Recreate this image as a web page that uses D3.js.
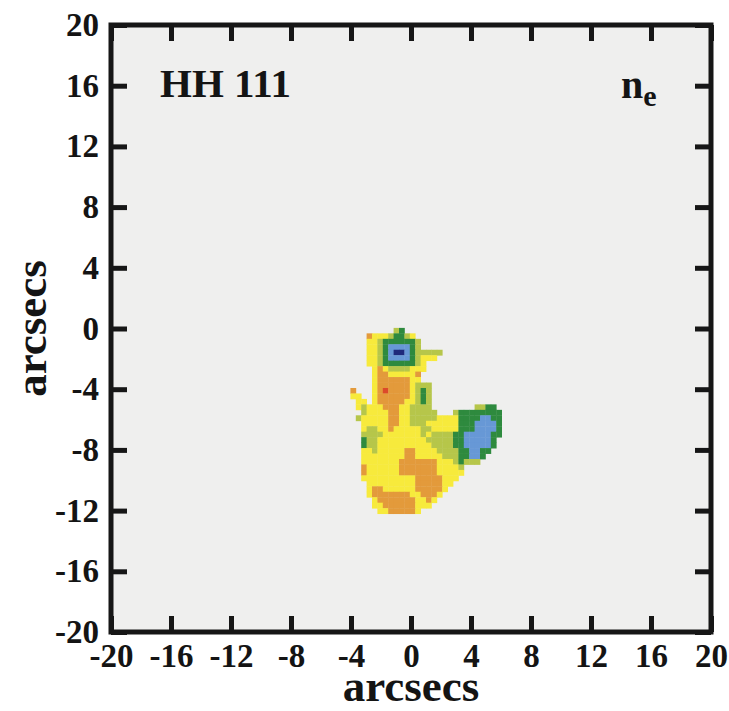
<!DOCTYPE html>
<html>
<head>
<meta charset="utf-8">
<script src="https://cdn.jsdelivr.net/npm/d3@7"></script>
<style>
  body { margin: 0; background: #ffffff; }
  text { font-family: "Liberation Serif", "Times New Roman", serif; font-weight: bold; fill: #141414; }
</style>
</head>
<body>
<svg id="chart" width="729" height="711"></svg>
<script>
// Axis ticks, arcsec offsets from the source
const xTicks = [-20, -16, -12, -8, -4, 0, 4, 8, 12, 16, 20];
const yTicks = [-20, -16, -12, -8, -4, 0, 4, 8, 12, 16, 20];

// Electron-density map: top-left corner of the grid and pixel size (arcsec)
const mapX0 = -4.4;
const mapY0 = 0.4;
const mapCell = 0.36;

// Density class per map pixel, one string per row from the top ('.' = no data)
// Y yellow, O orange, R red, L light green, G green, B blue, N dark blue
const mapRows = [
  "",
  ".........LG",
  "....OYYYLGGLY",
  "....YYLGGGGGGL",
  "....YYLGBBBBGL",
  "....YYLGBNNBGLLLLL",
  "....YYLGBBBBGLYYY",
  "....YYLGGGGGGLY",
  ".....YOYLLLLYYY",
  ".....YOOYYYYYO",
  ".....YOOOOOOYY",
  ".....YOOOOOOYLLL",
  ".O...YOROOOOYLGL",
  ".YY..YOOOOOOYLGL",
  "..YY.YOOOOOYYLGL",
  "..YLYYYOOOYYLLLL........LLGG",
  "...LYYYYOOYYLLLLL...LGGGGGGGG",
  "..LYYYYYOOYYLLLLLYYYYGGGGBBGG",
  "...YYYYYOOYYLLLYYYYYYGGGBBBBG",
  "...YLLYYOYYYYYLLYYYYYGGGBBBBG",
  "...LLLLYYYYYYYLYLLLLGGBBBBBGG",
  "...GLLYYYYYYYYYLLLLLGGBBBBBG",
  "...GLLYYYYYYYYYYLLLLGGBBBBBG",
  "...YYLYYYYYOOYYYYLLLLGGBBGG",
  "...YYYYYYYYOOYYYYYLLLGGBBG",
  "...YYYYYYYOOOOOOOYYYLGLLL",
  "...OYYYYYYOOOOOOOYYYYL",
  "...OYYYYYYOOOOOOOYYYYY",
  "...YYYYYYYYYYOOOOOYYY",
  "....YYYYYYYYYOOOOOYY",
  "....YOOYYYYYYOOOOOY",
  "....YOOOOOOOYYOOOY",
  ".....YOOOOOOOYYOY",
  ".....YYOOOOOOYYY",
  "......YYOOOOOY"
];

const classColors = {
  Y: "#f7ea3c",
  O: "#e39a3b",
  R: "#dc4a2a",
  L: "#b6c64a",
  G: "#2e8a3e",
  B: "#6798d6",
  N: "#1f2a7c"
};

const svg = d3.select("#chart");
const plotLeft = 111, plotRight = 711, plotTop = 25, plotBottom = 632;

const x = d3.scaleLinear().domain([-20, 20]).range([plotLeft, plotRight]);
const y = d3.scaleLinear().domain([-20, 20]).range([plotBottom, plotTop]);

// plot background
svg.append("rect")
  .attr("x", plotLeft).attr("y", plotTop)
  .attr("width", plotRight - plotLeft).attr("height", plotBottom - plotTop)
  .attr("fill", "#efefee");

// map pixels
const cells = [];
mapRows.forEach((row, r) => {
  row.split("").forEach((ch, c) => {
    if (ch !== ".") cells.push({ r, c, k: ch });
  });
});

svg.append("g").attr("class", "map")
  .selectAll("rect")
  .data(cells)
  .join("rect")
  .attr("x", d => x(mapX0 + d.c * mapCell))
  .attr("y", d => y(mapY0 - d.r * mapCell))
  .attr("width", d => x(mapX0 + (d.c + 1) * mapCell) - x(mapX0 + d.c * mapCell) + 0.4)
  .attr("height", d => y(mapY0 - (d.r + 1) * mapCell) - y(mapY0 - d.r * mapCell) + 0.4)
  .attr("fill", d => classColors[d.k]);

// axes: inward ticks on all four sides, labels on left and bottom
const tickLen = 16;
const plainNumber = d => String(d);   // ASCII hyphen for negatives
function styleAxis(g) {
  g.select(".domain").remove();
  g.selectAll(".tick line").attr("stroke", "#161616").attr("stroke-width", 5);
  g.selectAll(".tick text")
    .style("font-family", "'Liberation Serif', 'Times New Roman', serif")
    .style("font-weight", "bold")
    .style("font-size", "33px")
    .attr("fill", "#141414");
}

svg.append("g")
  .attr("transform", `translate(0,${plotBottom})`)
  .call(d3.axisBottom(x).tickValues(xTicks).tickSize(-tickLen).tickPadding(12).tickFormat(plainNumber))
  .call(styleAxis);

svg.append("g")
  .attr("transform", `translate(0,${plotTop})`)
  .call(d3.axisTop(x).tickValues(xTicks).tickSize(-tickLen).tickFormat(""))
  .call(styleAxis);

svg.append("g")
  .attr("transform", `translate(${plotLeft},0)`)
  .call(d3.axisLeft(y).tickValues(yTicks).tickSize(-tickLen).tickPadding(12).tickFormat(plainNumber))
  .call(styleAxis);

svg.append("g")
  .attr("transform", `translate(${plotRight},0)`)
  .call(d3.axisRight(y).tickValues(yTicks).tickSize(-tickLen).tickFormat(""))
  .call(styleAxis);

// frame
svg.append("rect")
  .attr("x", plotLeft).attr("y", plotTop)
  .attr("width", plotRight - plotLeft).attr("height", plotBottom - plotTop)
  .attr("fill", "none")
  .attr("stroke", "#161616")
  .attr("stroke-width", 5);

// axis titles
svg.append("text")
  .attr("x", (plotLeft + plotRight) / 2)
  .attr("y", 701)
  .attr("text-anchor", "middle")
  .style("font-size", "45px")
  .text("arcsecs");

svg.append("text")
  .attr("transform", `translate(46,${(plotTop + plotBottom) / 2}) rotate(-90)`)
  .attr("text-anchor", "middle")
  .style("font-size", "45px")
  .text("arcsecs");

// panel labels
svg.append("text")
  .attr("x", 160)
  .attr("y", 97)
  .style("font-size", "41px")
  .text("HH 111");

const ne = svg.append("text")
  .attr("x", 621)
  .attr("y", 98)
  .style("font-size", "40px");
ne.append("tspan").text("n");
ne.append("tspan").attr("dy", 8).style("font-size", "30px").text("e");
</script>
</body>
</html>
